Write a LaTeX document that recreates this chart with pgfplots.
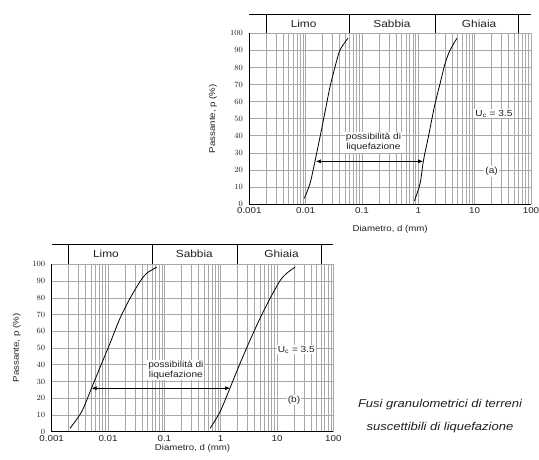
\documentclass[border=0pt]{standalone}
\usepackage{pgfplots}
\pgfplotsset{compat=1.18}
\usetikzlibrary{arrows.meta}
\usepackage{fontspec}
\setmainfont{Liberation Sans}[FakeStretch=1.15]
\definecolor{gridc}{gray}{0.66}
\definecolor{txt}{gray}{0.12}
\tikzset{ann/.style={font=\fontsize{8.8}{10}\selectfont, text=txt, fill=white, inner sep=1pt, align=center},
  bandlab/.style={font=\fontsize{10.3}{11}\selectfont, text=txt},
  axlab/.style={font=\fontsize{8.4}{9}\selectfont, text=txt}}
\begin{document}
\begin{tikzpicture}
\path[use as bounding box] (0pt,0pt) rectangle (539pt,-459pt);
% ---------- chart (a)
\begin{axis}[xmode=log, log basis x=10,
  scale only axis, width=281.7pt, height=170.7pt,
  at={(249.3pt,-204pt)}, anchor=south west,
  xmin=0.001, xmax=100, ymin=0, ymax=100,
  xtick={0.001,0.01,0.1,1,10,100},
  xticklabels={0.001,0.01,0.1,1,10,100},
  minor xtick={0.002,0.003,0.004,0.005,0.006,0.007,0.008,0.009,
               0.02,0.03,0.04,0.05,0.06,0.07,0.08,0.09,
               0.2,0.3,0.4,0.5,0.6,0.7,0.8,0.9,
               2,3,4,5,6,7,8,9,20,30,40,50,60,70,80,90},
  ytick={0,10,...,100},
  grid=both,
  major grid style={gridc, line width=0.5pt},
  minor grid style={gridc, line width=0.5pt},
  axis x line*=bottom, axis y line*=left,
  axis line style={black, line width=0.8pt},
  major tick length=0pt, minor tick length=0pt,
  tick label style={font=\fontsize{8.5}{9}\selectfont, text=txt},
  yticklabel style={xshift=-3pt},
  clip=false]
\addplot[black, line width=0.8pt, smooth] coordinates {
 (0.00948,3.3) (0.01197,12.1) (0.01469,25.2) (0.01803,39.4) (0.02213,54.1)
 (0.0271,68.7) (0.0333,80.4) (0.0408,90.2) (0.056,97)};
\addplot[black, line width=0.8pt, smooth] coordinates {
 (0.853,1.9) (1.077,12.1) (1.23,25.2) (1.51,39.4) (1.93,57)
 (2.44,70.7) (2.99,82.4) (3.67,90.2) (4.83,97)};
\addplot[black, line width=0.6pt, <->, >={Latex[length=5pt,width=4pt]}] coordinates {(0.0152,25) (1.22,25)};
\node[ann] at (axis cs:0.16,36) {possibilità di\\liquefazione};
\node[ann] at (axis cs:22,53) {U\textsubscript{c} = 3.5};
\node[ann] at (axis cs:20,19) {(a)};
\draw[black, line width=0.6pt] (axis cs:0.001,111.3) -- (axis cs:100,111.3);
\draw[black, line width=0.6pt] (axis cs:0.002,100) -- (axis cs:0.002,111.3);
\draw[black, line width=0.6pt] (axis cs:0.06,100) -- (axis cs:0.06,111.3);
\draw[black, line width=0.6pt] (axis cs:2,100) -- (axis cs:2,111.3);
\draw[black, line width=0.6pt] (axis cs:60,100) -- (axis cs:60,111.3);
\node[bandlab] at (axis cs:0.0092,105.6) {Limo};
\node[bandlab] at (axis cs:0.34,105.6) {Sabbia};
\node[bandlab] at (axis cs:12,105.6) {Ghiaia};
\node[axlab] at (axis description cs:0.5,-0.15) {Diametro, d (mm)};
\node[axlab, rotate=90] at (axis description cs:-0.129,0.5) {Passante, p (\%)};
\end{axis}
% ---------- chart (b)
\begin{axis}[xmode=log, log basis x=10,
  scale only axis, width=281.7pt, height=167.4pt,
  at={(51.7pt,-431.7pt)}, anchor=south west,
  xmin=0.001, xmax=100, ymin=0, ymax=100,
  xtick={0.001,0.01,0.1,1,10,100},
  xticklabels={0.001,0.01,0.1,1,10,100},
  minor xtick={0.002,0.003,0.004,0.005,0.006,0.007,0.008,0.009,
               0.02,0.03,0.04,0.05,0.06,0.07,0.08,0.09,
               0.2,0.3,0.4,0.5,0.6,0.7,0.8,0.9,
               2,3,4,5,6,7,8,9,20,30,40,50,60,70,80,90},
  ytick={0,10,...,100},
  grid=both,
  major grid style={gridc, line width=0.5pt},
  minor grid style={gridc, line width=0.5pt},
  axis x line*=bottom, axis y line*=left,
  axis line style={black, line width=0.8pt},
  major tick length=0pt, minor tick length=0pt,
  tick label style={font=\fontsize{8.5}{9}\selectfont, text=txt},
  yticklabel style={xshift=-3pt},
  clip=false]
\addplot[black, line width=0.8pt, smooth] coordinates {
 (0.00211,2) (0.00341,12) (0.00513,26.3) (0.00773,40.9) (0.01084,52.8)
 (0.01634,67.8) (0.0246,79.7) (0.037,89.7) (0.0487,94.7) (0.0733,98.3)};
\addplot[black, line width=0.8pt, smooth] coordinates {
 (0.648,2) (0.976,12) (1.47,26.3) (2.21,40.9) (3.33,54.8)
 (5.0,67.8) (7.54,79.7) (11.35,90.3) (14.9,94.7) (20.9,98.3)};
\addplot[black, line width=0.6pt, <->, >={Latex[length=5pt,width=4pt]}] coordinates {(0.0051,26) (1.47,26)};
\node[ann] at (axis cs:0.16,37) {possibilità di\\liquefazione};
\node[ann] at (axis cs:22,49) {U\textsubscript{c} = 3.5};
\node[ann] at (axis cs:20,19) {(b)};
\draw[black, line width=0.6pt] (axis cs:0.001,112.1) -- (axis cs:100,112.1);
\draw[black, line width=0.6pt] (axis cs:0.002,100) -- (axis cs:0.002,112.1);
\draw[black, line width=0.6pt] (axis cs:0.06,100) -- (axis cs:0.06,112.1);
\draw[black, line width=0.6pt] (axis cs:2,100) -- (axis cs:2,112.1);
\draw[black, line width=0.6pt] (axis cs:60,100) -- (axis cs:60,112.1);
\node[bandlab] at (axis cs:0.0092,106) {Limo};
\node[bandlab] at (axis cs:0.34,106) {Sabbia};
\node[bandlab] at (axis cs:12,106) {Ghiaia};
\node[axlab] at (axis description cs:0.5,-0.1) {Diametro, d (mm)};
\node[axlab, rotate=90] at (axis description cs:-0.124,0.5) {Passante, p (\%)};
\end{axis}
\node[font=\itshape\fontsize{11.3}{12}\selectfont, text=txt] at (440pt,-405pt) {Fusi granulometrici di terreni};
\node[font=\itshape\fontsize{11.3}{12}\selectfont, text=txt] at (440pt,-428pt) {suscettibili di liquefazione};
\end{tikzpicture}
\end{document}
